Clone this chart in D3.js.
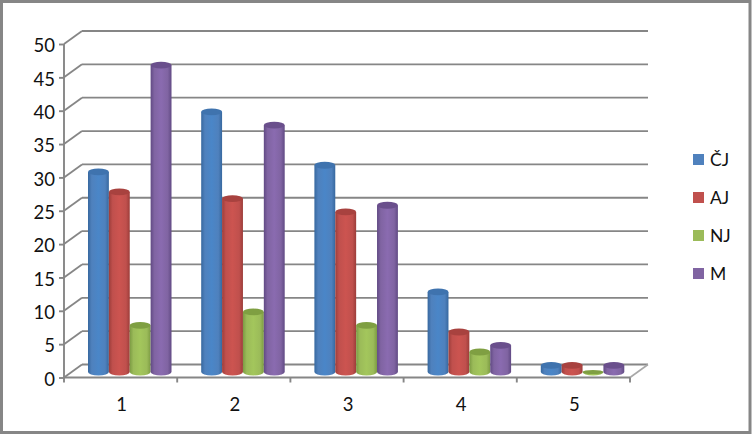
<!DOCTYPE html>
<html><head><meta charset="utf-8">
<script src="https://cdn.jsdelivr.net/npm/d3@7"></script>
<style>html,body{margin:0;padding:0;background:#fff}svg{display:block}text{font-family:Lato,"Open Sans",sans-serif;fill:#111}</style>
</head><body><svg id="c" width="752" height="435"></svg>
<script>
const categories = ["1","2","3","4","5"];
const seriesNames = ["ČJ","AJ","NJ","M"];
const cj = [30,39,31,12,1];
const aj = [27,26,24,6,1];
const nj = [7,9,7,3,0];
const m = [46,37,25,4,1];
const seriesValues = [cj,aj,nj,m];
const yTicks = [0,5,10,15,20,25,30,35,40,45,50];
const colors = [
 {mid:"#4f81bd",light:"#4a86c8",dark:"#37689f",top:"#3f73ae"},
 {mid:"#c0504d",light:"#cc5450",dark:"#9c3d3a",top:"#a8423f"},
 {mid:"#9bbb59",light:"#a3c65c",dark:"#7c9b43",top:"#7f9f42"},
 {mid:"#8064a2",light:"#8a6bb0",dark:"#614a84",top:"#6a4f8c"}];

const svg = d3.select("#c");
const W=752,H=435;
svg.append("rect").attr("x",1.5).attr("y",1.5).attr("width",W-3.5).attr("height",H-4)
  .attr("fill","#fff").attr("stroke","#868686").attr("stroke-width",3);

const gray="#868686";
const x = d3.scaleBand().domain(categories).range([64,630]);
const y = d3.scaleLinear().domain([0,50]).range([377.5,44]);
const dx=18, dy=-13;

// walls
yTicks.forEach(t=>{
  svg.append("line").attr("x1",x.range()[0]).attr("y1",y(t)).attr("x2",x.range()[0]+dx).attr("y2",y(t)+dy)
    .attr("stroke",gray).attr("stroke-width",1.8);
  svg.append("line").attr("x1",x.range()[0]+dx).attr("y1",y(t)+dy).attr("x2",x.range()[1]+dx).attr("y2",y(t)+dy)
    .attr("stroke",gray).attr("stroke-width",1.8);
});
svg.append("line").attr("x1",x.range()[1]).attr("y1",y(0)).attr("x2",x.range()[1]+dx).attr("y2",y(0)+dy)
  .attr("stroke","#a8a8a8").attr("stroke-width",1.6);

// axes
const yAxis = d3.axisLeft(y).tickValues(yTicks).tickSize(5).tickPadding(4);
const gy = svg.append("g").attr("transform","translate(64,0)").call(yAxis);
const xAxis = d3.axisBottom(x).tickSize(0).tickPadding(17);
const gx = svg.append("g").attr("transform",`translate(0,${y(0)})`).call(xAxis);
[gy,gx].forEach(g=>{g.selectAll("path,line").attr("stroke",gray).attr("stroke-width",1.9);
  g.selectAll("text").attr("font-size",18.5).style("fill","#111");g.select(".domain").attr("stroke",gray);});
gy.selectAll("text").attr("dy","0.42em");
gy.select(".domain").attr("d",`M0,${y(50)}V${y(0)}`);
gx.select(".domain").attr("d",`M64,0H630`);
gx.selectAll("text").attr("dy","0.9em").attr("dx",1);
const edges=[...categories.map(c=>x(c)),x.range()[1]];
gx.selectAll(".edge").data(edges).join("line").attr("class","edge")
  .attr("x1",d=>d).attr("x2",d=>d).attr("y1",0).attr("y2",5).attr("stroke",gray).attr("stroke-width",1.9);

// gradients
const defs=svg.append("defs");
colors.forEach((c,i)=>{
  const g=defs.append("linearGradient").attr("id","g"+i);
  [[0,c.dark],[.18,c.mid],[.5,c.light],[.82,c.mid],[1,c.dark]].forEach(s=>g.append("stop").attr("offset",s[0]).attr("stop-color",s[1]));
});

// bars
const inner = d3.scaleBand().domain(d3.range(4)).range([24,107.5]);
const bw = inner.bandwidth();
const base = y(0)-5.5, ry=3.4, barScale = (y(0)-y(1));
const h = v => v*barScale;
const mark = svg.append("g");
seriesValues.forEach((vals,i)=>{
  const g=mark.append("g");
  vals.forEach((v,j)=>{
    const x0=x(categories[j])+inner(i), rx=bw/2;
    const t=base-h(v);
    g.append("path").attr("d",`M${x0},${t}V${base}A${rx},${ry} 0 0 0 ${x0+bw},${base}V${t}Z`).attr("fill",`url(#g${i})`);
    g.append("ellipse").attr("cx",x0+rx).attr("cy",t).attr("rx",rx).attr("ry",v===0?2:ry)
      .attr("fill",colors[i].top);
  });
});

// legend
const ly = d3.scalePoint().domain(seriesNames).range([160,274]);
const lg = svg.append("g");
seriesNames.forEach((s,i)=>{
  lg.append("rect").attr("x",693).attr("y",ly(s)-6).attr("width",11).attr("height",11).attr("fill",colors[i].mid);
  lg.append("text").attr("x",710).attr("y",ly(s)).attr("dy","0.36em").attr("font-size",17.5).text(s);
});
</script></body></html>
